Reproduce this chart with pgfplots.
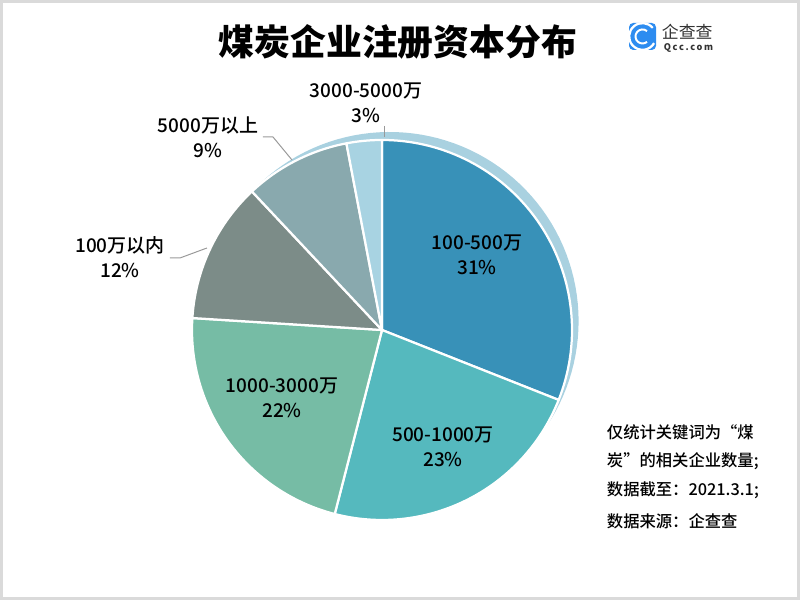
\documentclass[border=0pt]{standalone}
\usepackage{fontspec}
\setmainfont{Noto Sans CJK SC}
\newfontfamily\med{Noto Sans CJK SC Medium}
\usepackage{pgfplots}
\pgfplotsset{compat=1.18}
\definecolor{cA}{HTML}{3891B8}
\definecolor{cB}{HTML}{55B9BE}
\definecolor{cC}{HTML}{76BCA5}
\definecolor{cD}{HTML}{7C8C88}
\definecolor{cE}{HTML}{89A9AE}
\definecolor{cF}{HTML}{A8D3E2}
\definecolor{ring}{HTML}{A9D1E0}
\definecolor{logo}{HTML}{2D8CF0}
\definecolor{frame}{HTML}{DADADA}
% shares in percent, clockwise from the top
\def\vA{31}\def\vB{23}\def\vC{22}\def\vD{12}\def\vE{9}\def\vF{3}
\pgfmathsetmacro\tA{90}
\pgfmathsetmacro\tB{\tA-3.6*\vA}
\pgfmathsetmacro\tC{\tB-3.6*\vB}
\pgfmathsetmacro\tD{\tC-3.6*\vC}
\pgfmathsetmacro\tE{\tD-3.6*\vD}
\pgfmathsetmacro\tF{\tE-3.6*\vE}
\pgfmathsetmacro\tG{\tF-3.6*\vF}
\newcommand\slice[3]{\addplot[fill=#3, draw=white, line width=1.6pt, line join=round, domain=#2:#1, samples=70, variable=\t] ({382+190*cos(\t)},{270+190*sin(\t)}) -- (axis cs:382,270) -- cycle;}
\tikzset{lab/.style={align=center, font=\fontsize{13.5}{17.7}\selectfont\med}}
\begin{document}
\begin{tikzpicture}
\begin{axis}[scale only axis, width=20cm, height=15cm, xmin=0, xmax=800, ymin=0, ymax=600, hide axis, clip=false]
% decorative ring behind the largest slice
\addplot[fill=ring, draw=none, domain=0:360, samples=140, variable=\t] ({389.6+189*cos(\t)},{279+189*sin(\t)}) -- cycle;
\slice{\tA}{\tB}{cA}
\slice{\tB}{\tC}{cB}
\slice{\tC}{\tD}{cC}
\slice{\tD}{\tE}{cD}
\slice{\tE}{\tF}{cE}
\slice{\tF}{\tG}{cF}
% leader lines
\addplot[color=gray!80, line width=0.7pt] coordinates {(170,342) (180,342) (207,352)};
\addplot[color=gray!80, line width=0.7pt] coordinates {(263,463) (273,463) (292,440)};
\addplot[color=gray!80, line width=0.7pt] coordinates {(384,474) (384,463)};
% labels
\node[lab] at (axis cs:477,345) {100-500万\\31\%};
\node[lab] at (axis cs:443,153) {500-1000万\\23\%};
\node[lab] at (axis cs:282,202) {1000-3000万\\22\%};
\node[lab] at (axis cs:120,343) {100万以内\\12\%};
\node[lab] at (axis cs:208,463) {5000万以上\\9\%};
\node[lab] at (axis cs:366,497) {3000-5000万\\3\%};
% title
\node at (axis cs:398,558) {\fontsize{25.5}{30}\selectfont\bfseries 煤炭企业注册资本分布};
% logo
\fill[logo, rounded corners=3pt] (axis cs:629,550) rectangle (axis cs:656,577);
\draw[white, line width=1.6pt] (axis cs:642.5,563.5) ++(40:9.5pt) arc (40:330:9.5pt);
\draw[white, line width=1.4pt] (axis cs:642.5,563.5) ++(50:5pt) arc (50:310:5pt);
\node[anchor=west, text=black!80] at (axis cs:657,568) {\fontsize{12}{14}\selectfont 企查查};
\node[anchor=west, text=black!80] at (axis cs:659,552) {\fontsize{6.5}{8}\selectfont\bfseries Q\,c\,c\,.\,c\,o\,m};
% note
\begin{scope}[every node/.style={anchor=west, font=\fontsize{11.6}{14}\selectfont\med}]
\node at (axis cs:602,168) {仅统计关键词为“煤};
\node at (axis cs:602,139) {炭”的相关企业数量;};
\node at (axis cs:602,110) {数据截至：2021.3.1;};
\node at (axis cs:602,79) {数据来源：企查查};
\end{scope}
% frame
\draw[frame, line width=2.1pt] (axis cs:1.5,1.5) rectangle (axis cs:798.5,598.5);
\end{axis}
\end{tikzpicture}
\end{document}
